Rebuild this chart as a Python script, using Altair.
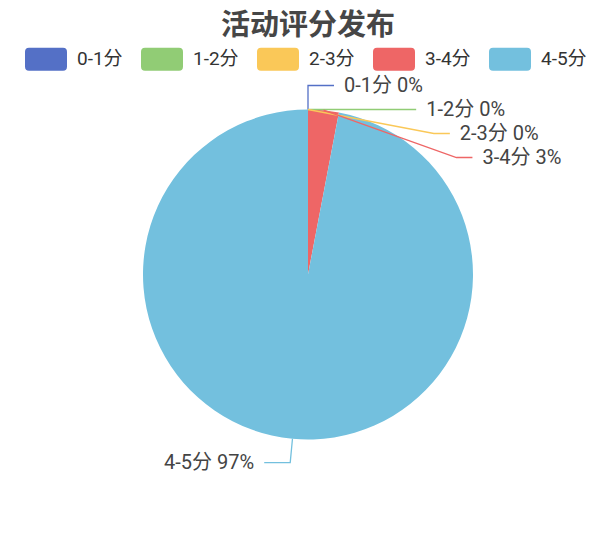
import math
import altair as alt
import pandas as pd

# ---- data ----
title_text = "活动评分发布"
categories = ["0-1分", "1-2分", "2-3分", "3-4分", "4-5分"]
values = [0, 0, 0, 3, 97]
palette = ["#5470c6", "#91cc75", "#fac858", "#ee6666", "#73c0de"]

# ---- layout constants ----
W, H = 600, 533
R = 165          # pie radius
L1 = 24          # first label-line segment (radial)
L2 = 26          # second label-line segment (horizontal)
L2_SHIFTED = 16  # second segment for labels moved by overlap avoidance
GAP = 10         # line end -> text
MIN_DY = 24      # minimum vertical spacing between labels on one side
FONT = "Roboto, 'Noto Sans CJK SC', sans-serif"

cx, cy = W / 2, H / 2
rr = R + L1
total = sum(values)

pie_rows, items = [], []
acc = 0.0
for i, (c, v) in enumerate(zip(categories, values)):
    frac = v / total
    mid = (acc + frac / 2) * 2 * math.pi
    acc += frac
    s, co = math.sin(mid), math.cos(mid)
    pct = round(frac * 100)
    pie_rows.append({"cat": c, "value": v, "idx": i})
    items.append({
        "idx": i, "cat": c, "hex": palette[i],
        "ax": cx + R * s, "ay": cy - R * co,
        "ey": cy - rr * co, "shifted": False,
        "side": "right" if s >= -1e-9 else "left",
        "label": f"{c} {pct}%",
    })

# simple overlap avoidance per side (push labels downward)
for side in ("right", "left"):
    grp = sorted([it for it in items if it["side"] == side], key=lambda d: (d["ey"], d["idx"]))
    for k in range(1, len(grp)):
        if grp[k]["ey"] < grp[k - 1]["ey"] + MIN_DY:
            grp[k]["ey"] = grp[k - 1]["ey"] + MIN_DY
            grp[k]["shifted"] = True
    for it in grp:
        dy = (it["ey"] - cy) / rr
        off = math.sqrt(max(0.0, 1 - dy * dy)) * rr
        sign = 1 if side == "right" else -1
        it["ex"] = cx + sign * off
        it["endx"] = it["ex"] + sign * (L2_SHIFTED if it["shifted"] else L2)
        it["tx"] = it["endx"] + sign * GAP

line_rows, text_rows = [], []
for it in items:
    line_rows += [
        {"cat": it["cat"], "hex": it["hex"], "pt": 0, "x": it["ax"], "y": it["ay"]},
        {"cat": it["cat"], "hex": it["hex"], "pt": 1, "x": it["ex"], "y": it["ey"]},
        {"cat": it["cat"], "hex": it["hex"], "pt": 2, "x": it["endx"], "y": it["ey"]},
    ]
    text_rows.append({"cat": it["cat"], "x": it["tx"], "y": it["ey"], "label": it["label"], "side": it["side"]})

df_pie = pd.DataFrame(pie_rows)
df_lines = pd.DataFrame(line_rows)
df_text = pd.DataFrame(text_rows)

xs = alt.Scale(domain=[0, W], range=[0, W], nice=False, zero=False)
ys = alt.Scale(domain=[0, H], range=[0, H], nice=False, zero=False)

rect_path = ("M -0.81 -0.548 L 0.81 -0.548 Q 1 -0.548 1 -0.358 L 1 0.358 Q 1 0.548 0.81 0.548 "
             "L -0.81 0.548 Q -1 0.548 -1 0.358 L -1 -0.358 Q -1 -0.548 -0.81 -0.548 Z")

pie = alt.Chart(df_pie).mark_arc(radius=R).encode(
    theta=alt.Theta("value:Q", stack=True),
    color=alt.Color(
        "cat:N",
        scale=alt.Scale(domain=categories, range=palette),
        sort=categories,
        legend=alt.Legend(
            title=None, orient="none", direction="horizontal",
            legendX=17, legendY=30,
            symbolType=rect_path, symbolSize=1764, symbolStrokeWidth=0, symbolOpacity=1,
            labelFontSize=19, labelColor="#333333", labelFont=FONT,
            labelOffset=10, columnPadding=18, padding=0,
        ),
    ),
    order=alt.Order("idx:Q"),
)

lines = alt.Chart(df_lines).mark_line(strokeWidth=1.3).encode(
    x=alt.X("x:Q", scale=xs, axis=None),
    y=alt.Y("y:Q", scale=ys, axis=None),
    color=alt.Color("hex:N", scale=None),
    detail="cat:N",
    order=alt.Order("pt:Q"),
)

text_right = alt.Chart(df_text).transform_filter(alt.datum.side == "right").mark_text(
    align="left", baseline="middle", fontSize=20, color="#444444", font=FONT
).encode(
    x=alt.X("x:Q", scale=xs, axis=None),
    y=alt.Y("y:Q", scale=ys, axis=None),
    text="label:N",
)

text_left = alt.Chart(df_text).transform_filter(alt.datum.side == "left").mark_text(
    align="right", baseline="middle", fontSize=20, color="#444444", font=FONT
).encode(
    x=alt.X("x:Q", scale=xs, axis=None),
    y=alt.Y("y:Q", scale=ys, axis=None),
    text="label:N",
)

chart = alt.layer(pie, lines, text_right, text_left).properties(
    width=W, height=H,
    autosize=alt.AutoSizeParams(type="none"),
    padding=0,
    title=alt.Title(
        title_text, fontSize=29, fontWeight="bold", color="#464646",
        font=FONT, anchor="middle",
        offset=0, baseline="top", dy=33,
    ),
).configure(background="white", view=alt.ViewConfig(stroke=None))

chart.save("out.html", embed_options={"renderer": "svg", "actions": False})
